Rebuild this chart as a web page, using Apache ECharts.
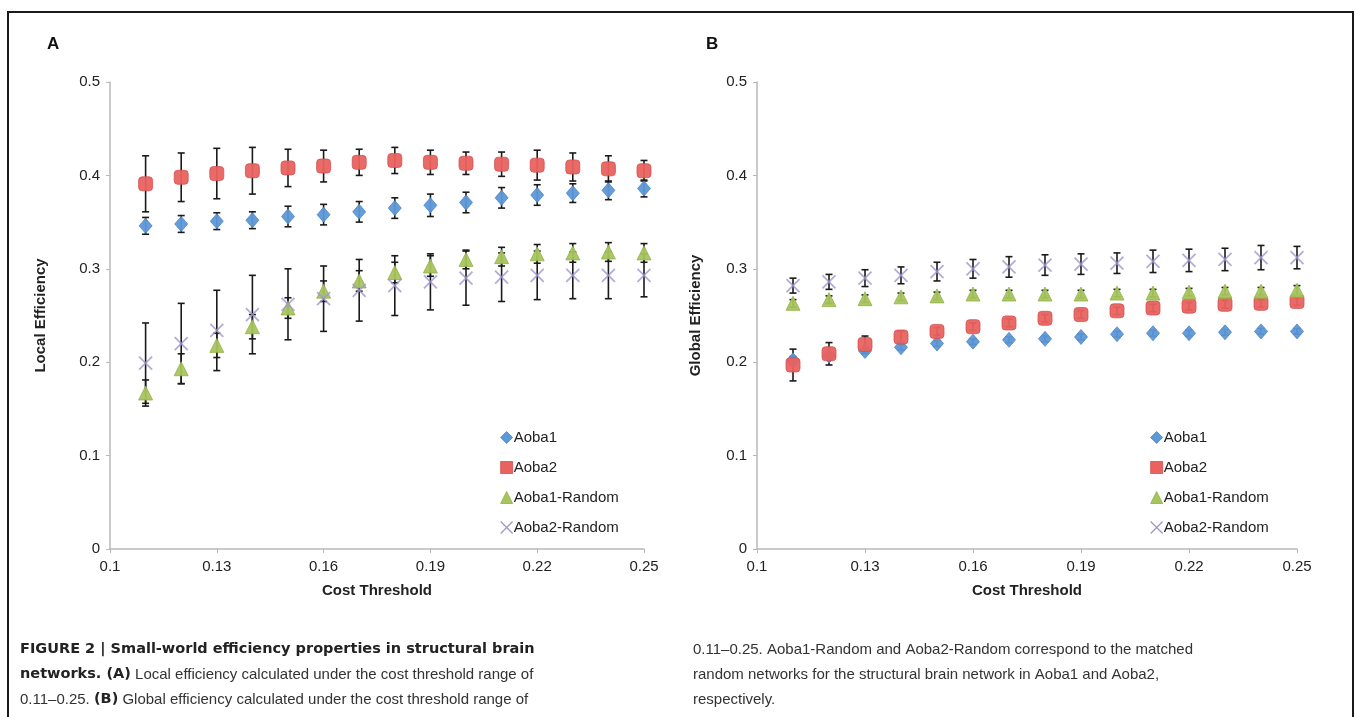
<!DOCTYPE html>
<html>
<head>
<meta charset="utf-8">
<script src="https://cdn.jsdelivr.net/npm/echarts@6/dist/echarts.min.js"></script>
<style>
html,body{margin:0;padding:0;background:#fff;}
#chart{width:1355px;height:717px;}
</style>
</head>
<body>
<div id="chart"></div>
<script>
// ---- data ----
const costLabels = ['0.1','0.11','0.12','0.13','0.14','0.15','0.16','0.17','0.18','0.19','0.2','0.21','0.22','0.23','0.24','0.25'];
const seriesNames = ['Aoba1','Aoba2','Aoba1-Random','Aoba2-Random'];
const yTicks = [0, 0.1, 0.2, 0.3, 0.4, 0.5];

// Panel A: Local efficiency (thresholds 0.11 .. 0.25)
const localAoba1      = [0.346,0.348,0.351,0.352,0.356,0.358,0.361,0.365,0.368,0.371,0.376,0.379,0.381,0.384,0.386];
const localAoba1Err   = [0.009,0.009,0.009,0.009,0.011,0.011,0.011,0.011,0.012,0.011,0.011,0.011,0.010,0.010,0.009];
const localAoba2      = [0.391,0.398,0.402,0.405,0.408,0.410,0.414,0.416,0.414,0.413,0.412,0.411,0.409,0.407,0.405];
const localAoba2Err   = [0.030,0.026,0.027,0.025,0.020,0.017,0.014,0.014,0.013,0.012,0.013,0.016,0.015,0.014,0.011];
const localAoba1R     = [0.167,0.193,0.218,0.238,0.258,0.276,0.287,0.296,0.303,0.310,0.313,0.316,0.317,0.318,0.317];
const localAoba1RErr  = [0.014,0.016,0.013,0.013,0.011,0.011,0.011,0.011,0.011,0.010,0.010,0.010,0.010,0.010,0.010];
const localAoba2R     = [0.199,0.220,0.234,0.251,0.262,0.268,0.277,0.282,0.286,0.290,0.291,0.293,0.293,0.293,0.293];
const localAoba2RErr  = [0.043,0.043,0.043,0.042,0.038,0.035,0.033,0.032,0.030,0.029,0.026,0.026,0.025,0.025,0.023];

// Panel B: Global efficiency
const globalAoba1     = [0.202,0.207,0.212,0.216,0.220,0.222,0.224,0.225,0.227,0.230,0.231,0.231,0.232,0.233,0.233];
const globalAoba1Err  = [0.004,0.003,0.003,0.003,0.003,0.003,0.003,0.003,0.003,0.003,0.003,0.003,0.003,0.003,0.003];
const globalAoba2     = [0.197,0.209,0.219,0.227,0.233,0.238,0.242,0.247,0.251,0.255,0.258,0.260,0.262,0.263,0.265];
const globalAoba2Err  = [0.017,0.012,0.009,0.006,0.004,0.004,0.004,0.004,0.004,0.004,0.004,0.004,0.004,0.004,0.004];
const globalAoba1R    = [0.263,0.267,0.268,0.270,0.271,0.273,0.273,0.273,0.273,0.274,0.274,0.275,0.276,0.276,0.277];
const globalAoba1RErr = [0.004,0.004,0.004,0.004,0.004,0.004,0.004,0.004,0.004,0.004,0.004,0.004,0.004,0.004,0.005];
const globalAoba2R    = [0.282,0.286,0.290,0.293,0.297,0.300,0.302,0.304,0.305,0.306,0.308,0.309,0.310,0.312,0.312];
const globalAoba2RErr = [0.008,0.008,0.009,0.009,0.010,0.010,0.011,0.011,0.011,0.011,0.012,0.012,0.012,0.013,0.012];

// ---- styling ----
const FONT = '"Liberation Sans", Arial, sans-serif';
const styles = {
  'Aoba1':        {symbol:'diamond', size:[13,15], color:'#5d98d8', border:'#4a82c2'},
  'Aoba2':        {symbol:'roundRect', size:[14,14], color:'#e9625f', border:'#d24f4d'},
  'Aoba1-Random': {symbol:'triangle', size:[14,14], color:'#a6c55c', border:'#8fae46'},
  'Aoba2-Random': {symbol:'path://M0,0L10,10M10,0L0,10', size:[13,13], color:'none', border:'#a097cc'}
};

function pts(vals, errs){
  return vals.map((v,i)=>[i+1, v, errs[i]]);
}

function errSeries(name, data, gi){
  return {
    type:'custom', name:name, xAxisIndex:gi, yAxisIndex:gi, z:2,
    silent:true,
    renderItem:function(params, api){
      const x = api.value(0), y = api.value(1), e = api.value(2);
      const hi = api.coord([x, y+e]);
      const lo = api.coord([x, y-e]);
      const st = {stroke:'#1a1a1a', lineWidth:1.6};
      const cw = 3.5;
      return {type:'group', children:[
        {type:'line', shape:{x1:hi[0],y1:hi[1],x2:lo[0],y2:lo[1]}, style:st},
        {type:'line', shape:{x1:hi[0]-cw,y1:hi[1],x2:hi[0]+cw,y2:hi[1]}, style:st},
        {type:'line', shape:{x1:lo[0]-cw,y1:lo[1],x2:lo[0]+cw,y2:lo[1]}, style:st}
      ]};
    },
    encode:{x:0,y:1},
    data:data
  };
}

function scatterSeries(name, data, gi){
  const s = styles[name];
  const isX = name === 'Aoba2-Random';
  return {
    type:'scatter', name:name, xAxisIndex:gi, yAxisIndex:gi, z:3,
    symbol:s.symbol, symbolSize:s.size,
    itemStyle: isX ? {color:'rgba(0,0,0,0)', borderColor:s.border, borderWidth:1.8}
                   : {color:s.color, borderColor:s.border, borderWidth:0.8, opacity:0.95},
    emphasis:{disabled:true},
    data:data.map(d=>[d[0], d[1]])
  };
}

const panels = [
  [localAoba1, localAoba1Err, localAoba2, localAoba2Err, localAoba1R, localAoba1RErr, localAoba2R, localAoba2RErr],
  [globalAoba1, globalAoba1Err, globalAoba2, globalAoba2Err, globalAoba1R, globalAoba1RErr, globalAoba2R, globalAoba2RErr]
];

const series = [];
panels.forEach((p, gi)=>{
  seriesNames.forEach((n, k)=>{
    series.push(errSeries(n, pts(p[2*k], p[2*k+1]), gi));
  });
  seriesNames.forEach((n, k)=>{
    series.push(scatterSeries(n, pts(p[2*k], p[2*k+1]), gi));
  });
});

function xAxis(gi){
  return {
    type:'category', gridIndex:gi, data:costLabels, boundaryGap:false,
    axisLine:{lineStyle:{color:'#b8b8b8', width:1.5}},
    axisTick:{show:true, interval:2, length:4, lineStyle:{color:'#b8b8b8'}},
    axisLabel:{interval:2, color:'#222', fontSize:15, fontFamily:FONT, margin:10},
    splitLine:{show:false},
    name:'Cost Threshold', nameLocation:'middle', nameGap:34,
    nameTextStyle:{color:'#222', fontSize:15, fontWeight:'bold', fontFamily:FONT}
  };
}
function yAxis(gi, name, gap){
  return {
    type:'value', gridIndex:gi, min:yTicks[0], max:yTicks[yTicks.length-1], interval:0.1,
    axisLine:{show:true, lineStyle:{color:'#b8b8b8', width:1.5}},
    axisTick:{show:true, length:4, lineStyle:{color:'#b8b8b8'}},
    axisLabel:{color:'#222', fontSize:15, fontFamily:FONT, margin:10},
    splitLine:{show:false},
    name:name, nameLocation:'middle', nameGap:gap, nameRotate:90,
    nameTextStyle:{color:'#222', fontSize:15, fontWeight:'bold', fontFamily:FONT}
  };
}

function legend(left){
  return {
    orient:'vertical', left:left, top:425, itemGap:15, itemWidth:12, itemHeight:12,
    selectedMode:false,
    textStyle:{color:'#222', fontSize:15, fontFamily:FONT, padding:[0,0,0,-4]},
    data:seriesNames.map(n=>{
      const s = styles[n];
      if(n === 'Aoba2-Random'){
        return {name:n, icon:s.symbol, itemStyle:{color:'rgba(0,0,0,0)', borderColor:s.border, borderWidth:1.3}};
      }
      return {name:n, icon:s.symbol === 'roundRect' ? 'rect' : s.symbol, itemStyle:{color:s.color, borderColor:s.border, borderWidth:0.8}};
    })
  };
}

const CAP = '"Liberation Sans", Arial, sans-serif';
const chart = echarts.init(document.getElementById('chart'), null, {renderer:'canvas'});
chart.setOption({
  animation:false,
  backgroundColor:'#fff',
  grid:[
    {left:110, top:82, width:534, height:467},
    {left:757, top:82, width:540, height:467}
  ],
  xAxis:[xAxis(0), xAxis(1)],
  yAxis:[yAxis(0,'Local Efficiency',62), yAxis(1,'Global Efficiency',54)],
  legend:[legend(495), legend(1145)],
  series:series,
  graphic:[
    {type:'rect', shape:{x:8, y:12, width:1345, height:720}, style:{fill:'none', stroke:'#1a1a1a', lineWidth:2}, silent:true, z:-1},
    {type:'text', left:47, top:36, style:{text:'A', fontSize:17, fontWeight:'bold', fontFamily:FONT, fill:'#111'}},
    {type:'text', left:706, top:36, style:{text:'B', fontSize:17, fontWeight:'bold', fontFamily:FONT, fill:'#111'}},
    {type:'text', left:20, top:637, style:{
      text:'{b|FIGURE 2 | Small-world efficiency properties in structural brain}\n{b|networks. (A)} Local efficiency calculated under the cost threshold range of\n0.11–0.25. {b|(B)} Global efficiency calculated under the cost threshold range of',
      fontSize:15, lineHeight:25, fontFamily:CAP, fill:'#333',
      rich:{b:{fontWeight:'bold', fontSize:14.5, lineHeight:25, fontFamily:'"DejaVu Sans", sans-serif', fill:'#222'}}
    }},
    {type:'text', left:693, top:637, style:{
      text:'0.11–0.25. Aoba1-Random and Aoba2-Random correspond to the matched\nrandom networks for the structural brain network in Aoba1 and Aoba2,\nrespectively.',
      fontSize:15, lineHeight:25, fontFamily:CAP, fill:'#333'
    }}
  ]
});
</script>
</body>
</html>
